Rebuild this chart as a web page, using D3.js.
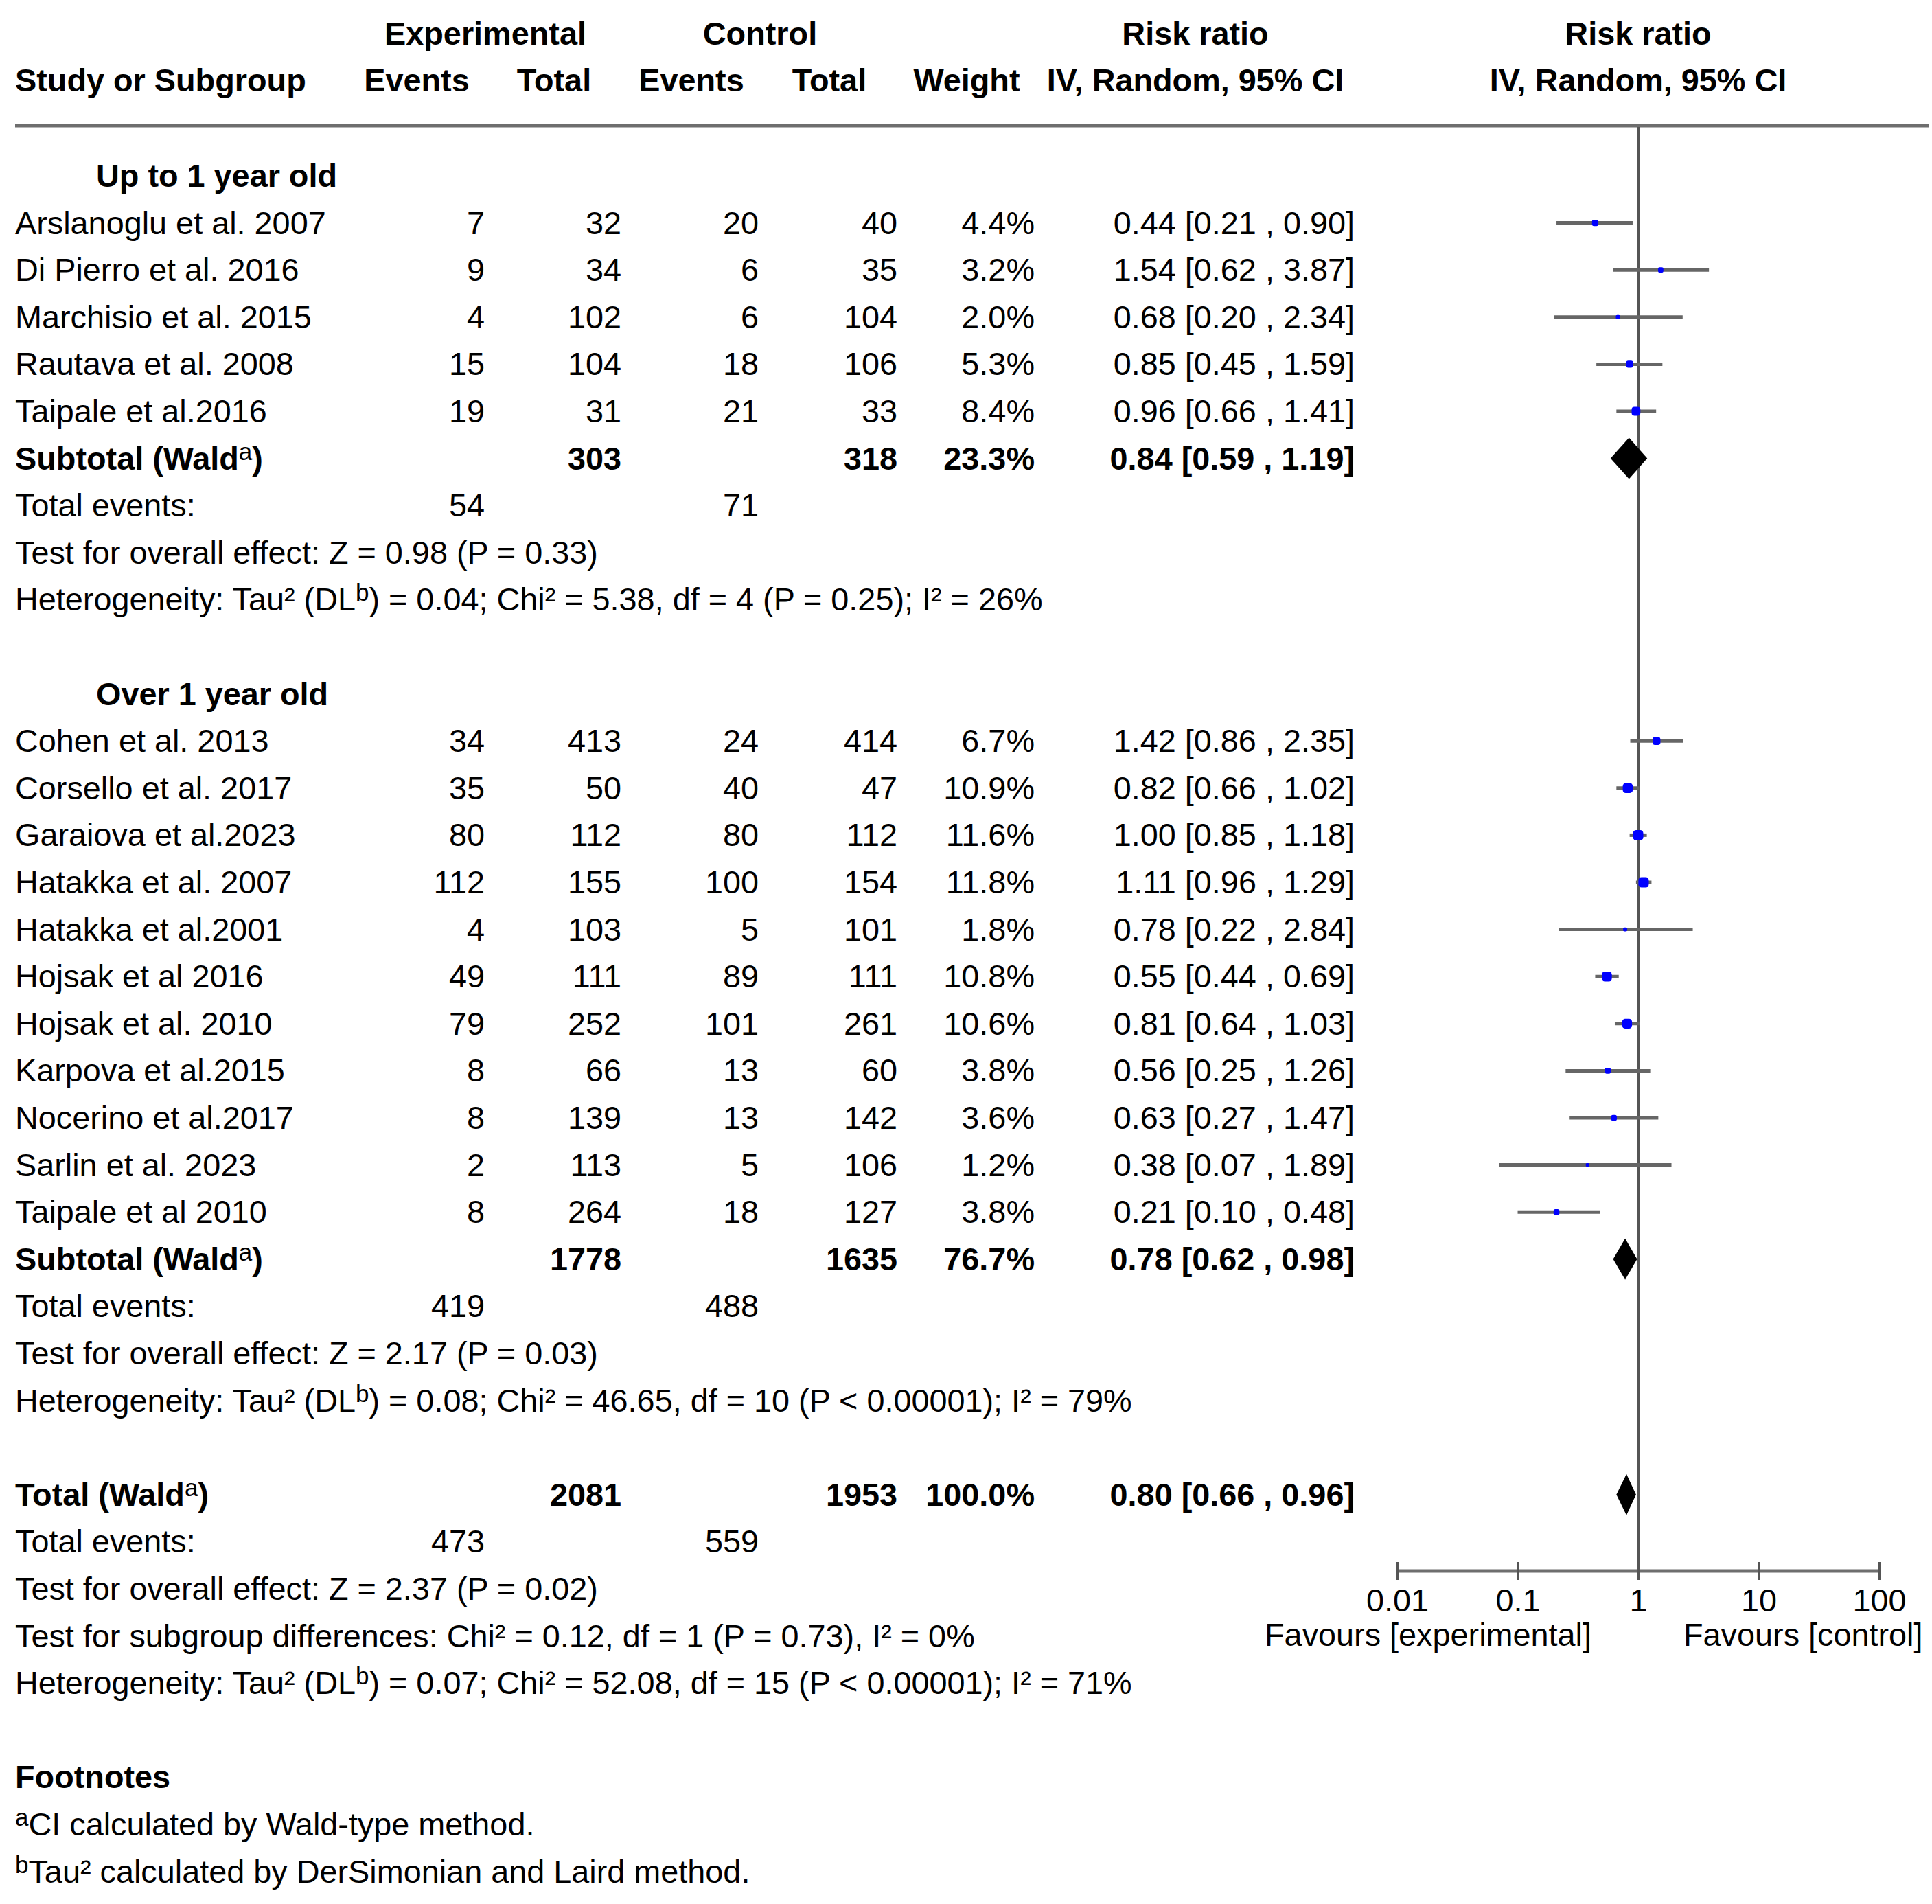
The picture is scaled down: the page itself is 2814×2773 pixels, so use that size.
<!DOCTYPE html>
<html>
<head>
<meta charset="utf-8">
<script src="https://cdn.jsdelivr.net/npm/d3@7"></script>
<style>
  body { margin: 0; background: #fff; }
  svg { display: block; font-family: 'Liberation Sans', Arial, sans-serif; }
</style>
</head>
<body>
<div class="app"></div>
<script>
// studies: name, exp events, exp total, ctl events, ctl total, weight %, rr, lower, upper
const upTo1Studies = [
    ['Arslanoglu et al. 2007', 7, 32, 20, 40, 4.4, 0.44, 0.21, 0.90],
    ['Di Pierro et al. 2016', 9, 34, 6, 35, 3.2, 1.54, 0.62, 3.87],
    ['Marchisio et al. 2015', 4, 102, 6, 104, 2.0, 0.68, 0.20, 2.34],
    ['Rautava et al. 2008', 15, 104, 18, 106, 5.3, 0.85, 0.45, 1.59],
    ['Taipale et al.2016', 19, 31, 21, 33, 8.4, 0.96, 0.66, 1.41],
];
const over1Studies = [
    ['Cohen et al. 2013', 34, 413, 24, 414, 6.7, 1.42, 0.86, 2.35],
    ['Corsello et al. 2017', 35, 50, 40, 47, 10.9, 0.82, 0.66, 1.02],
    ['Garaiova et al.2023', 80, 112, 80, 112, 11.6, 1.00, 0.85, 1.18],
    ['Hatakka et al. 2007', 112, 155, 100, 154, 11.8, 1.11, 0.96, 1.29],
    ['Hatakka et al.2001', 4, 103, 5, 101, 1.8, 0.78, 0.22, 2.84],
    ['Hojsak et al 2016', 49, 111, 89, 111, 10.8, 0.55, 0.44, 0.69],
    ['Hojsak et al. 2010', 79, 252, 101, 261, 10.6, 0.81, 0.64, 1.03],
    ['Karpova et al.2015', 8, 66, 13, 60, 3.8, 0.56, 0.25, 1.26],
    ['Nocerino et al.2017', 8, 139, 13, 142, 3.6, 0.63, 0.27, 1.47],
    ['Sarlin et al. 2023', 2, 113, 5, 106, 1.2, 0.38, 0.07, 1.89],
    ['Taipale et al 2010', 8, 264, 18, 127, 3.8, 0.21, 0.10, 0.48],
];
// pooled rows: label, exp total, ctl total, weight, rr, lower, upper, exp events, ctl events
const pooledRows = [
    ['Subtotal', 303, 318, 23.3, 0.84, 0.59, 1.19, 54, 71],
    ['Subtotal', 1778, 1635, 76.7, 0.78, 0.62, 0.98, 419, 488],
    ['Total', 2081, 1953, 100.0, 0.80, 0.66, 0.96, 473, 559],
];
const overallTests = [
    'Test for overall effect: Z = 0.98 (P = 0.33)',
    'Test for overall effect: Z = 2.17 (P = 0.03)',
    'Test for overall effect: Z = 2.37 (P = 0.02)',
];
// heterogeneity: tau², chi², df, p, I²
const heterogeneity = [
    ['0.04', '5.38', 4, '= 0.25', '26%'],
    ['0.08', '46.65', 10, '< 0.00001', '79%'],
    ['0.07', '52.08', 15, '< 0.00001', '71%'],
];
const subgroupTest = 'Test for subgroup differences: Chi² = 0.12, df = 1 (P = 0.73), I² = 0%';
const groupTitles = ['Up to 1 year old', 'Over 1 year old'];
const axisTicks = [0.01, 0.1, 1, 10, 100];
const footnotes = [['a', 'CI calculated by Wald-type method.'], ['b', 'Tau² calculated by DerSimonian and Laird method.']];

const W = 2814, H = 2773;
const FS = 46.8;
const rowY = (i) => 256 + 68.6 * i;
const base = (i) => rowY(i) + 16;

const colEvE = 706, colToE = 905, colEvC = 1105, colToC = 1307, colW = 1507, colCI = 1973, xLeft = 22;
const xs = d3.scaleLog().domain([0.01, 100]).range([2035, 2737]);
const axisY = 2288;

const svg = d3.select('.app').append('svg').attr('width', W).attr('height', H);
svg.append('rect').attr('width', W).attr('height', H).attr('fill', '#fff');

const txt = (x, y, s, anchor = 'start', bold = false) => svg.append('text')
    .attr('x', x).attr('y', y)
    .attr('text-anchor', anchor)
    .attr('font-size', FS)
    .attr('font-weight', bold ? 'bold' : 'normal')
    .text(s);

const superText = (x, y, parts, bold = false) => {
    // parts: array of [string, isSup]
    const t = svg.append('text').attr('x', x).attr('y', y).attr('font-size', FS)
        .attr('font-weight', bold ? 'bold' : 'normal');
    let raised = false;
    parts.forEach(([s, sup]) => {
        const sp = t.append('tspan').text(s);
        if (sup && !raised) { sp.attr('dy', -14).attr('font-size', 35).attr('font-weight', 'normal'); raised = true; }
        else if (!sup && raised) { sp.attr('dy', 14); raised = false; }
    });
    return t;
};

// header
txt(707, 65, 'Experimental', 'middle', true);
txt(1107, 65, 'Control', 'middle', true);
txt(1741, 65, 'Risk ratio', 'middle', true);
txt(2386, 65, 'Risk ratio', 'middle', true);
txt(xLeft, 133, 'Study or Subgroup', 'start', true);
txt(607, 133, 'Events', 'middle', true);
txt(807, 133, 'Total', 'middle', true);
txt(1007, 133, 'Events', 'middle', true);
txt(1208, 133, 'Total', 'middle', true);
txt(1408, 133, 'Weight', 'middle', true);
txt(1741, 133, 'IV, Random, 95% CI', 'middle', true);
txt(2386, 133, 'IV, Random, 95% CI', 'middle', true);

svg.append('line').attr('x1', xLeft).attr('x2', 2810).attr('y1', 183).attr('y2', 183)
    .attr('stroke', '#6e6e6e').attr('stroke-width', 5);

// reference line at 1
svg.append('line').attr('x1', xs(1)).attr('x2', xs(1)).attr('y1', 185).attr('y2', axisY)
    .attr('stroke', '#555').attr('stroke-width', 4);

const ciText = (rr, lo, hi) => `${rr.toFixed(2)} [${lo.toFixed(2)} , ${hi.toFixed(2)}]`;

const hetParts = (h) => [
    ['Heterogeneity: Tau² (DL', false], ['b', true],
    [`) = ${h[0]}; Chi² = ${h[1]}, df = ${h[2]} (P ${h[3]}); I² = ${h[4]}`, false],
];

const forest = svg.append('g');

const drawStudy = (s, i) => {
    const y = base(i);
    txt(xLeft, y, s[0]);
    txt(colEvE, y, s[1], 'end');
    txt(colToE, y, s[2], 'end');
    txt(colEvC, y, s[3], 'end');
    txt(colToC, y, s[4], 'end');
    txt(colW, y, `${s[5].toFixed(1)}%`, 'end');
    txt(colCI, y, ciText(s[6], s[7], s[8]), 'end');
    forest.append('line')
        .attr('x1', xs(s[7])).attr('x2', xs(s[8]))
        .attr('y1', rowY(i)).attr('y2', rowY(i))
        .attr('stroke', '#666').attr('stroke-width', 5);
    const side = Math.max(5, 4.4 * Math.sqrt(s[5]));
    forest.append('rect')
        .attr('x', xs(s[6]) - side / 2).attr('y', rowY(i) - side / 2)
        .attr('width', side).attr('height', side)
        .attr('rx', side * 0.3)
        .attr('fill', '#0000ff');
};

const drawPooled = (p, i) => {
    const y = base(i);
    superText(xLeft, y, [[`${p[0]} (Wald`, false], ['a', true], [')', false]], true);
    txt(colToE, y, p[1], 'end', true);
    txt(colToC, y, p[2], 'end', true);
    txt(colW, y, `${p[3].toFixed(1)}%`, 'end', true);
    txt(colCI, y, ciText(p[4], p[5], p[6]), 'end', true);
    const cy = rowY(i), hh = 30;
    forest.append('path')
        .attr('d', `M${xs(p[5])},${cy} L${xs(p[4])},${cy - hh} L${xs(p[6])},${cy} L${xs(p[4])},${cy + hh} Z`)
        .attr('fill', '#000');
    txt(xLeft, base(i + 1), 'Total events:');
    txt(colEvE, base(i + 1), p[7], 'end');
    txt(colEvC, base(i + 1), p[8], 'end');
};

// group 1
txt(140, base(0), groupTitles[0], 'start', true);
upTo1Studies.forEach((s, k) => drawStudy(s, 1 + k));
drawPooled(pooledRows[0], 6);
txt(xLeft, base(8), overallTests[0]);
superText(xLeft, base(9), hetParts(heterogeneity[0]));

// group 2
txt(140, base(11), groupTitles[1], 'start', true);
over1Studies.forEach((s, k) => drawStudy(s, 12 + k));
drawPooled(pooledRows[1], 23);
txt(xLeft, base(25), overallTests[1]);
superText(xLeft, base(26), hetParts(heterogeneity[1]));

// total
drawPooled(pooledRows[2], 28);
txt(xLeft, base(30), overallTests[2]);
txt(xLeft, base(31), subgroupTest);
superText(xLeft, base(32), hetParts(heterogeneity[2]));

// footnotes
txt(xLeft, base(34), 'Footnotes', 'start', true);
footnotes.forEach((f, k) => superText(xLeft, base(35 + k), [[f[0], true], [f[1], false]]));

// axis
const axisG = svg.append('g')
    .attr('transform', `translate(0,${axisY})`)
    .call(d3.axisBottom(xs).tickValues(axisTicks).tickFormat(d => String(d)).tickSizeOuter(0));
axisG.select('.domain').attr('stroke', '#6e6e6e').attr('stroke-width', 5)
    .attr('d', `M${xs(0.01)},0H${xs(100)}`);
axisG.selectAll('.tick line').attr('y1', -13).attr('y2', 13).attr('stroke', '#555').attr('stroke-width', 3);
axisG.selectAll('.tick text')
    .attr('y', 59).attr('dy', 0)
    .attr('font-size', FS)
    .attr('font-family', "'Liberation Sans', Arial, sans-serif")
    .attr('fill', '#000');

txt(2318, 2397, 'Favours [experimental]', 'end');
txt(2452, 2397, 'Favours [control]', 'start');
</script>
</body>
</html>
